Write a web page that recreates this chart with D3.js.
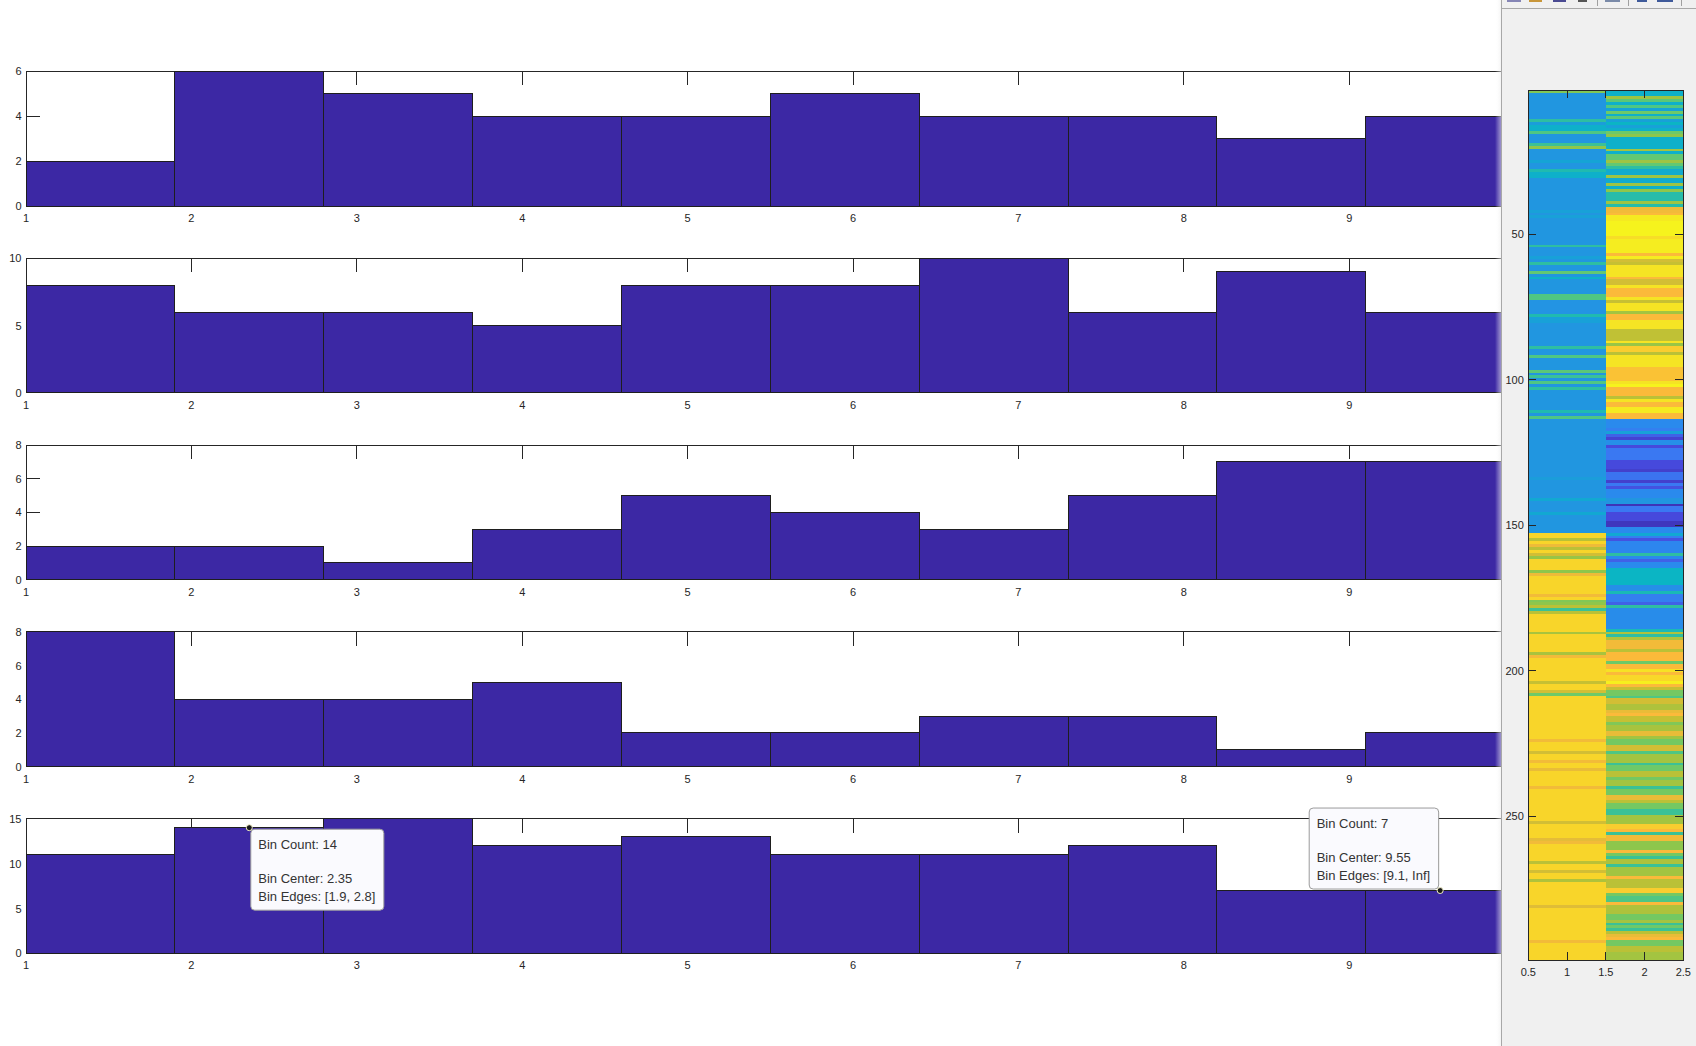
<!DOCTYPE html>
<html><head><meta charset="utf-8">
<script src="https://cdn.jsdelivr.net/npm/d3@7"></script>
<style>html,body{margin:0;padding:0;background:#fff;overflow:hidden}svg{display:block}</style>
</head><body>
<svg id="c" width="1696" height="1046"></svg>
<script>
// ---------------- DATA ----------------
const binEdges = [1, 1.9, 2.8, 3.7, 4.6, 5.5, 6.4, 7.3, 8.2, 9.1, Infinity];
const xTickValues = [1, 2, 3, 4, 5, 6, 7, 8, 9, 10];
const counts1 = [2, 6, 5, 4, 4, 5, 4, 4, 3, 4];
const counts2 = [8, 6, 6, 5, 8, 8, 10, 6, 9, 6];
const counts3 = [2, 2, 1, 3, 5, 4, 3, 5, 7, 7];
const counts4 = [8, 4, 4, 5, 2, 2, 3, 3, 1, 2];
const counts5 = [11, 14, 15, 12, 13, 11, 11, 12, 7, 7];
const yLimits = [6, 10, 8, 8, 15];
const yTicks1 = [0, 2, 4, 6];
const yTicks2 = [0, 5, 10];
const yTicks3 = [0, 2, 4, 6, 8];
const yTicks4 = [0, 2, 4, 6, 8];
const yTicks5 = [0, 5, 10, 15];

// datatips shown on the 5th histogram
const tipPanel = [4, 4];
const tipBin = [1, 9];
const tipCenter = [2.35, 9.55];
const tipEdgesText = ["[1.9, 2.8]", "[9.1, Inf]"];

// heatmap (imagesc) : 299 rows x 2 columns, values as [startRow, value] runs
const heatRows = 299;
const heatCol1Runs = [[1,.58],[2,.3],[11,.45],[12,.32],[13,.38],[15,.5],[16,.3],[19,.47],[20,.6],[21,.3],[25,.34],[26,.3],[28,.43],[29,.38],[31,.3],[42,.33],[43,.3],[44,.33],[45,.3],[54,.45],[55,.3],[58,.33],[59,.3],[60,.45],[61,.3],[63,.53],[64,.3],[65,.38],[66,.3],[71,.5],[73,.29],[78,.43],[79,.33],[81,.3],[89,.45],[90,.3],[92,.5],[93,.3],[97,.52],[98,.3],[99,.47],[100,.3],[101,.5],[102,.3],[103,.45],[104,.3],[111,.43],[112,.3],[113,.5],[114,.3],[134,.32],[135,.3],[141,.35],[142,.3],[146,.35],[147,.3],[153,.87],[155,.68],[156,.87],[157,.77],[158,.68],[159,.87],[160,.72],[161,.62],[162,.87],[166,.6],[167,.77],[168,.87],[174,.78],[175,.87],[176,.58],[177,.6],[178,.68],[179,.47],[180,.68],[181,.87],[187,.65],[188,.87],[194,.65],[195,.78],[196,.87],[204,.7],[205,.87],[207,.72],[208,.55],[209,.87],[224,.78],[225,.87],[228,.72],[229,.87],[231,.78],[232,.87],[234,.76],[235,.87],[240,.78],[241,.87],[252,.72],[253,.87],[258,.75],[259,.78],[260,.87],[266,.68],[267,.87],[269,.72],[270,.87],[272,.66],[273,.87],[281,.74],[282,.87],[293,.78],[294,.87]];
const heatCol2Runs = [[1,.38],[3,.63],[4,.52],[5,.38],[6,.5],[7,.34],[8,.55],[9,.38],[10,.52],[11,.33],[12,.4],[13,.33],[14,.38],[15,.55],[16,.6],[17,.38],[21,.64],[22,.38],[23,.53],[25,.63],[26,.53],[27,.45],[28,.36],[30,.63],[31,.36],[33,.63],[34,.38],[35,.6],[36,.44],[39,.63],[40,.44],[41,.77],[42,.78],[43,.8],[44,.95],[46,.98],[51,.9],[52,.96],[57,.8],[58,.96],[59,.72],[60,.7],[61,.93],[65,.8],[66,.72],[68,.93],[69,.8],[72,.93],[73,.7],[74,.93],[77,.64],[78,.8],[80,.93],[83,.69],[87,.93],[88,.62],[89,.85],[91,.68],[92,.93],[96,.82],[101,.93],[102,.98],[103,.8],[106,.68],[107,.93],[108,.8],[110,.95],[112,.8],[114,.25],[117,.22],[118,.33],[119,.15],[120,.08],[121,.27],[123,.1],[124,.2],[128,.1],[131,.07],[132,.19],[135,.07],[136,.2],[137,.12],[138,.25],[141,.3],[143,.03],[144,.2],[146,.1],[149,.04],[151,.25],[153,.35],[154,.22],[155,.12],[156,.24],[160,.45],[161,.25],[162,.15],[163,.25],[165,.4],[171,.27],[173,.42],[174,.22],[177,.15],[178,.45],[179,.26],[186,.42],[187,.66],[188,.45],[189,.66],[190,.78],[193,.68],[194,.8],[197,.55],[198,.8],[200,.92],[201,.8],[202,.88],[204,.97],[205,.8],[206,.7],[207,.56],[209,.5],[210,.72],[212,.66],[214,.76],[215,.8],[216,.7],[218,.58],[219,.65],[221,.76],[223,.64],[224,.56],[226,.72],[228,.5],[229,.64],[232,.47],[233,.55],[235,.68],[237,.56],[238,.64],[240,.47],[241,.56],[243,.76],[245,.68],[246,.56],[248,.47],[250,.64],[253,.85],[255,.8],[256,.47],[257,.78],[259,.6],[262,.8],[263,.56],[264,.47],[265,.66],[267,.47],[268,.64],[271,.8],[272,.68],[275,.85],[277,.56],[278,.5],[280,.8],[281,.66],[284,.56],[286,.64],[287,.47],[288,.55],[289,.47],[290,.68],[291,.76],[292,.8],[293,.56],[295,.68],[297,.64]];
const heatXTicks = [0.5, 1, 1.5, 2, 2.5];
const heatXTickLabels = ["0.5", "1", "1.5", "2", "2.5"];
const heatYTicks = [50, 100, 150, 200, 250];

// parula-like colormap
const cmapStops  = [0, .10, .20, .25, .30, .35, .40, .45, .50, .55, .60, .65, .70, .75, .80, .87, .93, 1];
const cmapColors = ["#3b2aa8","#4649dc","#3a78f2","#2a8aed","#2196e0","#12a8d2","#0bb5c4","#2ebea2","#4fc683","#6ec968","#8ec64c","#a8c33e","#c6c033","#e5bc38","#fbba3a","#f8d52a","#f5e424","#f6f91a"];

// ---------------- LAYOUT ----------------
const svg = d3.select("#c");
const FONT = "'Liberation Sans', Arial, Helvetica, sans-serif";
const AX = "#262626";
const BAR = "#3c28a4";
const countsAll = [counts1, counts2, counts3, counts4, counts5];
const yTicksAll = [yTicks1, yTicks2, yTicks3, yTicks4, yTicks5];
const panelLeft = 26, panelRight = 1514.6, panelH = 134.7, panelTop0 = 71.3, panelStep = 186.85;
const tickLen = 14;

const x = d3.scaleLinear().domain([1, 10]).range([panelLeft, panelRight]);
const xMax = 10;
const yScales = [];

countsAll.forEach((counts, p) => {
  const top = panelTop0 + p * panelStep, bottom = top + panelH;
  const y = d3.scaleLinear().domain([0, yLimits[p]]).range([bottom, top]);
  yScales.push(y);
  const g = svg.append("g");
  const tk = g.append("g").attr("stroke", AX).attr("stroke-width", 1).attr("shape-rendering", "crispEdges");
  xTickValues.forEach(v => {
    tk.append("line").attr("x1", x(v)).attr("x2", x(v)).attr("y1", top).attr("y2", top + tickLen);
    tk.append("line").attr("x1", x(v)).attr("x2", x(v)).attr("y1", bottom).attr("y2", bottom - tickLen);
  });
  yTicksAll[p].forEach(v => {
    tk.append("line").attr("x1", panelLeft).attr("x2", panelLeft + tickLen).attr("y1", y(v)).attr("y2", y(v));
    tk.append("line").attr("x1", panelRight).attr("x2", panelRight - tickLen).attr("y1", y(v)).attr("y2", y(v));
  });
  g.append("rect").attr("x", panelLeft).attr("y", top).attr("width", panelRight - panelLeft).attr("height", panelH)
    .attr("fill", "none").attr("stroke", AX).attr("shape-rendering", "crispEdges");
  g.append("g").selectAll("rect").data(counts).join("rect")
    .attr("x", (d, i) => x(binEdges[i]))
    .attr("width", (d, i) => x(Math.min(binEdges[i + 1], xMax)) - x(binEdges[i]))
    .attr("y", d => y(d))
    .attr("height", d => y(0) - y(d))
    .attr("fill", BAR).attr("stroke", "#1e1e1e").attr("stroke-width", 1)
    .attr("shape-rendering", "crispEdges");
  const lab = g.append("g").attr("font-family", FONT).attr("font-size", 11).attr("fill", AX);
  xTickValues.forEach(v => {
    lab.append("text").attr("x", x(v)).attr("y", bottom + 16).attr("text-anchor", "middle").text(v);
  });
  yTicksAll[p].forEach(v => {
    lab.append("text").attr("x", panelLeft - 4.5).attr("y", y(v) + 4).attr("text-anchor", "end").text(v);
  });
});

// ---------------- DATATIPS ----------------
tipPanel.forEach((p, k) => {
  const b = tipBin[k];
  const cnt = countsAll[p][b];
  const mx = x(tipCenter[k]), my = yScales[p](cnt);
  const lines = ["Bin Count: " + cnt, "", "Bin Center: " + tipCenter[k], "Bin Edges: " + tipEdgesText[k]];
  const g = svg.append("g");
  const box = g.append("rect").attr("rx", 4).attr("ry", 4)
    .attr("fill", "#fafafe").attr("stroke", "#9a9a9a").attr("stroke-width", 1);
  const t = g.append("g").attr("font-family", FONT).attr("font-size", 13).attr("fill", "#333");
  let w = 0;
  const texts = lines.map((s, i) => {
    const el = t.append("text").attr("y", 19.7 + i * 17.3).text(s);
    w = Math.max(w, el.node().getComputedTextLength());
    return el;
  });
  const bw = w + 16, bh = 81;
  let bx, by;
  if (k === 0) { bx = mx + 1.5; by = my + 1.5; } else { bx = mx - 1.5 - bw; by = my - 1.5 - bh; }
  box.attr("x", bx).attr("y", by).attr("width", bw).attr("height", bh);
  texts.forEach(el => el.attr("x", bx + 7.5).attr("y", by + +el.attr("y")));
  g.append("circle").attr("cx", mx).attr("cy", my).attr("r", 3)
    .attr("fill", "#1a1a1a").attr("stroke", "#f2f0c8").attr("stroke-width", 1);
});

// ---------------- OVERLAY WINDOW ----------------
const defs = svg.append("defs");
const lg = defs.append("linearGradient").attr("id", "shadow").attr("x1", 0).attr("x2", 1).attr("y1", 0).attr("y2", 0);
lg.append("stop").attr("offset", 0).attr("stop-color", "#fff").attr("stop-opacity", 0);
lg.append("stop").attr("offset", 1).attr("stop-color", "#ececec").attr("stop-opacity", 0.55);
svg.append("rect").attr("x", 1495).attr("y", 0).attr("width", 6).attr("height", 1046).attr("fill", "url(#shadow)");
svg.append("rect").attr("x", 1501).attr("y", 0).attr("width", 195).attr("height", 1046).attr("fill", "#f0f0f0");
svg.append("line").attr("x1", 1501.5).attr("x2", 1501.5).attr("y1", 0).attr("y2", 1046).attr("stroke", "#a8a8a8");
const tb = svg.append("g").attr("shape-rendering", "crispEdges");
const icons = [[1507, 14, "#8585b5"], [1529, 13, "#c8963a"], [1553, 13, "#4a4a92"], [1578, 9, "#555"], [1605, 15, "#7a8aa8"], [1637, 10, "#3f5a9a"], [1657, 16, "#3f5a9a"]];
icons.forEach(d => tb.append("rect").attr("x", d[0]).attr("y", 0).attr("width", d[1]).attr("height", 2).attr("fill", d[2]));
[1597, 1628, 1681].forEach(sx => tb.append("line").attr("x1", sx + 0.5).attr("x2", sx + 0.5).attr("y1", 0).attr("y2", 6).attr("stroke", "#a0a0a0"));
tb.append("line").attr("x1", 1502).attr("x2", 1696).attr("y1", 8.5).attr("y2", 8.5).attr("stroke", "#a8a8a8");

// ---------------- HEATMAP ----------------
const hx = d3.scaleLinear().domain([0.5, 2.5]).range([1528.3, 1683.3]);
const hy = d3.scaleLinear().domain([0.5, heatRows + 0.5]).range([90.3, 960.4]);
const cmap = d3.scaleLinear().domain(cmapStops).range(cmapColors).interpolate(d3.interpolateRgb);
function expandRuns(runs) {
  const out = [];
  runs.forEach((r, i) => {
    const end = i + 1 < runs.length ? runs[i + 1][0] : heatRows + 1;
    for (let row = r[0]; row < end; row++) out.push({ row, v: r[1] });
  });
  return out;
}
const hm = svg.append("g").attr("shape-rendering", "crispEdges");
[heatCol1Runs, heatCol2Runs].forEach((runs, ci) => {
  const col = ci + 1;
  hm.append("g").selectAll("rect").data(expandRuns(runs)).join("rect")
    .attr("x", hx(col - 0.5)).attr("width", hx(col + 0.5) - hx(col - 0.5))
    .attr("y", d => hy(d.row - 0.5)).attr("height", d => hy(d.row + 0.5) - hy(d.row - 0.5) + 0.6)
    .attr("fill", d => cmap(d.v));
});
const ha = svg.append("g").attr("stroke", AX).attr("shape-rendering", "crispEdges");
ha.append("rect").attr("x", hx(0.5)).attr("y", hy(0.5)).attr("width", hx(2.5) - hx(0.5)).attr("height", hy(heatRows + 0.5) - hy(0.5)).attr("fill", "none").attr("stroke-width", 1.3);
const htl = 8;
heatXTicks.forEach(v => {
  ha.append("line").attr("x1", hx(v)).attr("x2", hx(v)).attr("y1", hy(0.5)).attr("y2", hy(0.5) + htl);
  ha.append("line").attr("x1", hx(v)).attr("x2", hx(v)).attr("y1", hy(heatRows + 0.5)).attr("y2", hy(heatRows + 0.5) - htl);
});
heatYTicks.forEach(v => {
  ha.append("line").attr("x1", hx(0.5)).attr("x2", hx(0.5) + htl).attr("y1", hy(v)).attr("y2", hy(v));
  ha.append("line").attr("x1", hx(2.5)).attr("x2", hx(2.5) - htl).attr("y1", hy(v)).attr("y2", hy(v));
});
const hl = svg.append("g").attr("font-family", FONT).attr("font-size", 11).attr("fill", AX);
heatXTicks.forEach((v, i) => hl.append("text").attr("x", hx(v)).attr("y", hy(heatRows + 0.5) + 16).attr("text-anchor", "middle").text(heatXTickLabels[i]));
heatYTicks.forEach(v => hl.append("text").attr("x", hx(0.5) - 4.5).attr("y", hy(v) + 4).attr("text-anchor", "end").text(v));
</script>
</body></html>
